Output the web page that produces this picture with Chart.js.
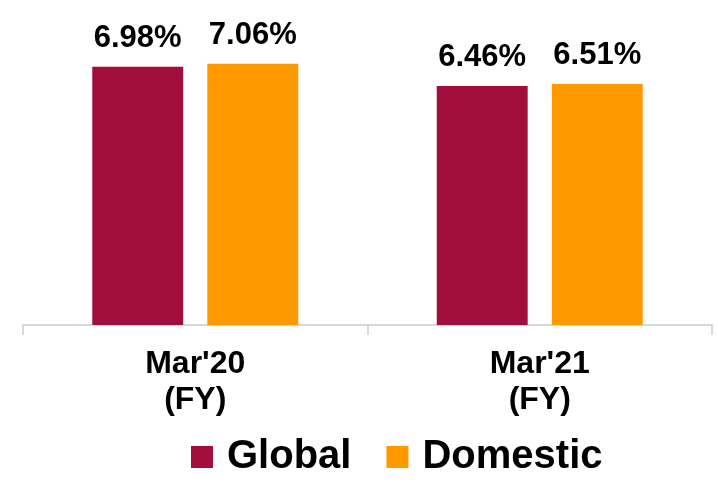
<!DOCTYPE html>
<html>
<head>
<meta charset="utf-8">
<script src="https://cdn.jsdelivr.net/npm/chart.js@4"></script>
<style>
  body { margin: 0; background: #fff; }
  #wrap { width: 718px; height: 490px; }
</style>
</head>
<body>
<div id="wrap"><canvas id="chart" width="718" height="490"></canvas></div>
<script>
const categories = [["Mar'20", "(FY)"], ["Mar'21", "(FY)"]];
const seriesNames = ['Global', 'Domestic'];
const globalValues = [6.98, 6.46];
const domesticValues = [7.06, 6.51];
const seriesColors = ['#A20E3C', '#FF9900'];

const FONT = "'Liberation Sans', Arial, sans-serif";

// value labels above each bar
const valueLabels = {
    id: 'valueLabels',
    afterDatasetsDraw(chart) {
        const ctx = chart.ctx;
        ctx.save();
        ctx.font = 'bold 31px ' + FONT;
        ctx.fillStyle = '#000';
        ctx.textAlign = 'center';
        ctx.textBaseline = 'alphabetic';
        chart.data.datasets.forEach((ds, i) => {
            chart.getDatasetMeta(i).data.forEach((bar, j) => {
                ctx.fillText(ds.data[j].toFixed(2) + '%', bar.x, bar.y - 20);
            });
        });
        ctx.restore();
    }
};

// legend drawn under the axis, as in the original slide
const bottomLegend = {
    id: 'bottomLegend',
    afterDraw(chart) {
        const ctx = chart.ctx;
        const box = 22, gap = 14, spacing = 35;
        const cy = 457;
        let x = 191;
        ctx.save();
        ctx.font = 'bold 40px ' + FONT;
        ctx.textBaseline = 'middle';
        ctx.textAlign = 'left';
        chart.data.datasets.forEach(ds => {
            ctx.fillStyle = ds.backgroundColor;
            ctx.fillRect(x, cy - box / 2, box, box);
            x += box + gap;
            ctx.fillStyle = '#000';
            ctx.fillText(ds.label, x, cy);
            x += ctx.measureText(ds.label).width + spacing;
        });
        ctx.restore();
    }
};

new Chart(document.getElementById('chart').getContext('2d'), {
    type: 'bar',
    data: {
        labels: categories,
        datasets: [
            { label: seriesNames[0], data: globalValues, backgroundColor: seriesColors[0] },
            { label: seriesNames[1], data: domesticValues, backgroundColor: seriesColors[1] }
        ]
    },
    options: {
        responsive: false,
        animation: false,
        devicePixelRatio: 1,
        layout: { padding: { left: 23, right: 6, top: 0, bottom: 61 } },
        datasets: {
            bar: { categoryPercentage: 0.668, barPercentage: 0.79 }
        },
        scales: {
            x: {
                grid: {
                    drawOnChartArea: false,
                    drawTicks: true,
                    tickLength: 10,
                    color: '#D9D9D9',
                    lineWidth: 2
                },
                border: { color: '#D9D9D9', width: 2 },
                ticks: {
                    color: '#000',
                    padding: 11,
                    font: { family: FONT, size: 32, weight: 'bold', lineHeight: 1.125 }
                }
            },
            y: {
                display: false,
                min: 0,
                max: 8.78
            }
        },
        plugins: {
            legend: { display: false },
            tooltip: { enabled: false }
        }
    },
    plugins: [valueLabels, bottomLegend]
});
</script>
</body>
</html>
